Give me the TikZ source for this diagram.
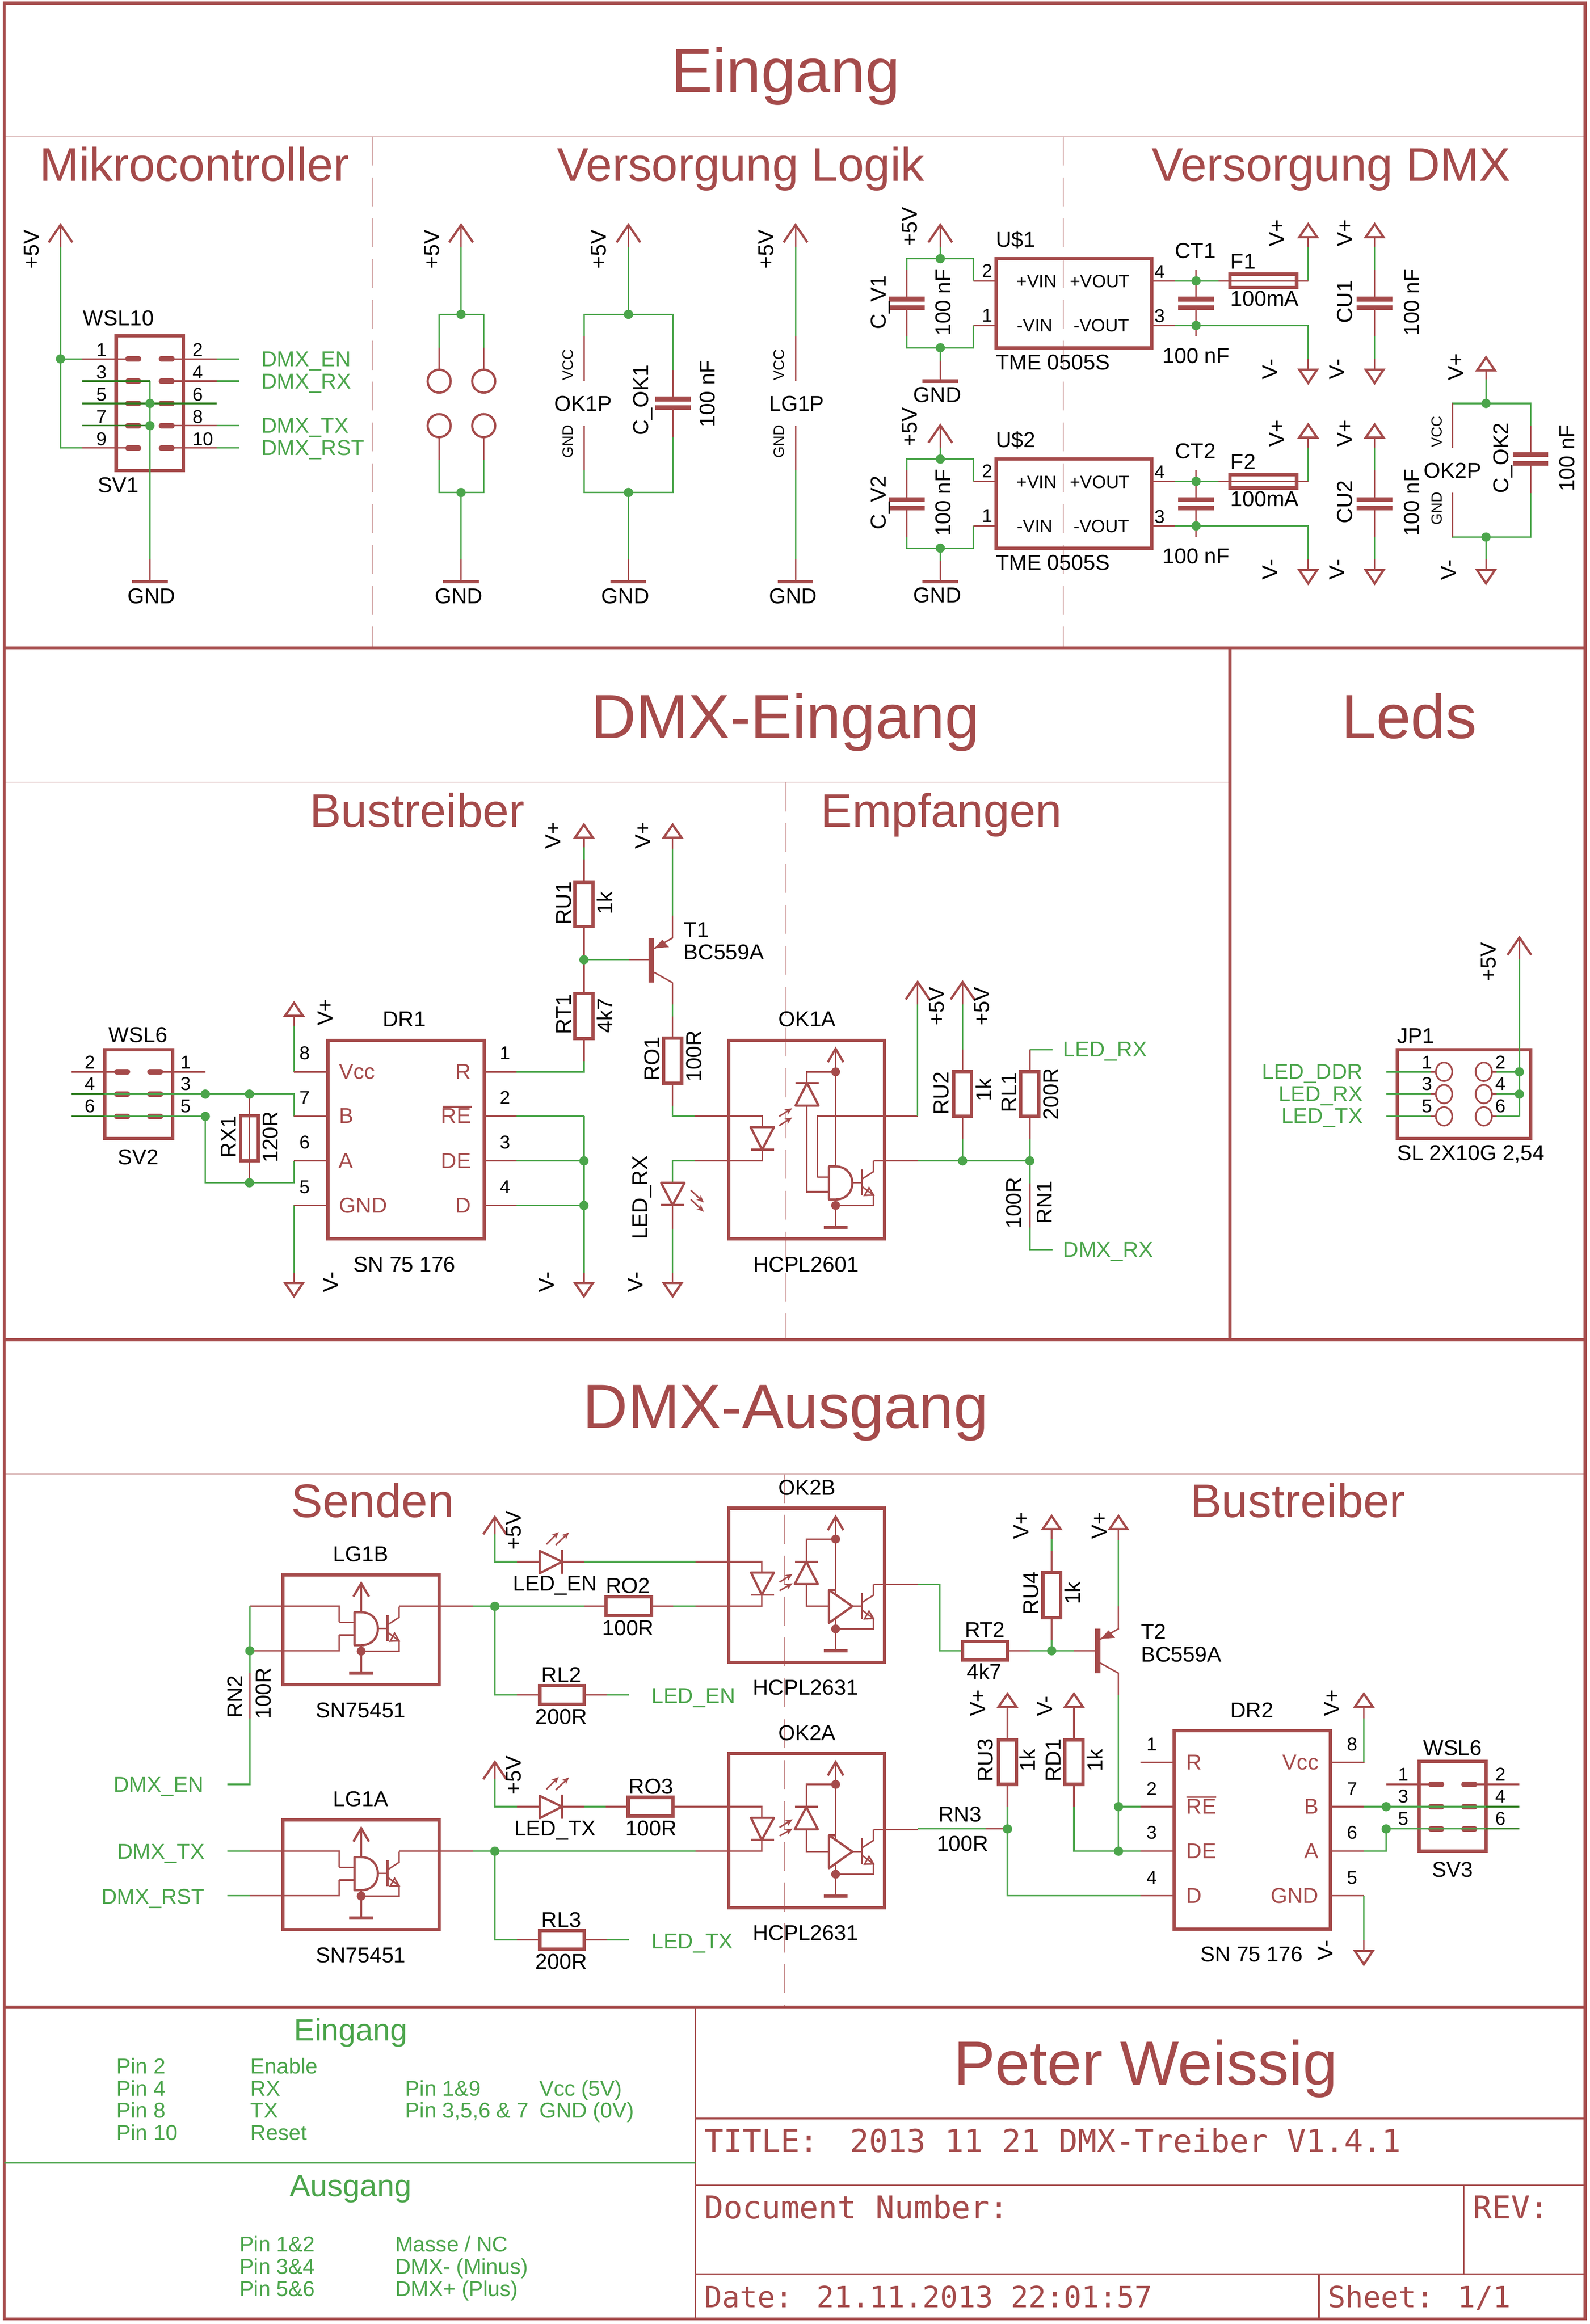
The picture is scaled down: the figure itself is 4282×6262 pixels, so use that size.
\documentclass[tikz,border=0pt]{standalone}
\usepackage{fontspec}
\setmainfont{Liberation Sans}
\newfontfamily\vfont{DejaVu Sans Mono}
\usetikzlibrary{arrows.meta}
\definecolor{sred}{HTML}{A54B4B}
\definecolor{sgrn}{HTML}{4BA54B}
\definecolor{dgrn}{HTML}{2E7D1F}
\newcommand\fpx[1]{\fontsize{\fpeval{#1*0.28453}}{\fpeval{#1*0.3}}\selectfont}
\newcounter{tn}
\tikzset{
 txt/.style={inner sep=0pt,outer sep=0pt,font=\fpx{58}},
 grn/.style={text=sgrn},
 rd/.style={text=sred},
 wire/.style={draw=sgrn,line width=0.04cm},
 dwire/.style={draw=dgrn,line width=0.04cm},
 pinl/.style={draw=sred,line width=0.04cm},
 outl/.style={draw=sred,line width=0.09cm,line join=miter},
 fram/.style={draw=sred,line width=0.08cm},
 thinf/.style={draw=sred,line width=0.045cm},
 symb/.style={draw=sred,line width=0.06cm,line join=round},
 capl/.style={draw=sred,line width=0.13cm},
 faintl/.style={draw=sred!35,line width=0.03cm},
 faintd/.style={draw=sred!65,line width=0.02cm,dash pattern=on 0.78cm off 0.32cm},
 boxn/.style={draw=sred,line width=0.09cm,inner sep=0pt,outer sep=0pt},
 big/.style={font=\fpx{168},text=sred},
 sect/.style={font=\fpx{127},text=sred},
 nr/.style={font=\fpx{50}},
 sml/.style={font=\fpx{40}},
 mono/.style={font=\vfont\fpx{85},text=sred},
}
\newcommand\TL[4][]{\stepcounter{tn}\node[txt,anchor=base west,#1] (t\thetn) at (#2,#3) {#4};}
\newcommand\TC[4][]{\stepcounter{tn}\node[txt,anchor=base,#1] (t\thetn) at (#2,#3) {#4};}
\newcommand\TR[4][]{\stepcounter{tn}\node[txt,anchor=base east,#1] (t\thetn) at (#2,#3) {#4};}
\newcommand\TV[4][]{\stepcounter{tn}\node[txt,anchor=base west,rotate=90,#1] (t\thetn) at (#2,#3) {#4};}
\newcommand\jd[2]{\fill[sgrn] (#1,#2) circle[radius=0.125cm];}
\newcommand\rdot[2]{\fill[sred] (#1,#2) circle[radius=0.12cm];}
% box given by corners
\newcommand\bx[5]{\pgfmathsetmacro\bw{((#4)-(#2))*0.01}\pgfmathsetmacro\bh{((#5)-(#3))*0.01}\pgfmathsetmacro\bcx{((#2)+(#4))/2}\pgfmathsetmacro\bcy{((#3)+(#5))/2}\node[boxn,minimum width=\bw cm,minimum height=\bh cm] (#1) at (\bcx,\bcy) {};}
\newcommand\Rv[4]{\pgfmathsetmacro\rxa{#2-24}\pgfmathsetmacro\rxb{#2+24}\bx{#1}{\rxa}{#3}{\rxb}{#4}}
\newcommand\Rh[4]{\pgfmathsetmacro\rya{#4-25}\pgfmathsetmacro\ryb{#4+25}\bx{#1}{#2}{\rya}{#3}{\ryb}}
\newcommand\capv[3]{\draw[capl] ({#1-48},#2)--({#1+48},#2);\draw[capl] ({#1-48},#3)--({#1+48},#3);}
\newcommand\gndb[2]{\draw[outl] ({#1-48},#2)--({#1+48},#2);}
\newcommand\parr[2]{\draw[symb,line join=miter] ({#1-32},{#2+47})--(#1,#2)--({#1+32},{#2+47});}
\newcommand\vup[2]{\draw[symb,line join=miter] (#1,#2)--({#1+24},{#2+35})--({#1-24},{#2+35})--cycle;}
\newcommand\vdn[2]{\draw[symb,line join=miter] (#1,{#2+36})--({#1+24},#2)--({#1-24},#2)--cycle;}
\newcommand\padd[2]{\draw[draw=sred,line width=0.15cm,line cap=round] ({#1-14},#2)--({#1+14},#2);}
\newcommand\larr[4]{\draw[draw=sred,line width=0.04cm,-{Stealth[length=0.2cm,width=0.17cm]}] (#1,#2)--(#3,#4);}
\newcommand\pnp[2]{%
 \draw[draw=sred,line width=0.15cm] (#1,#2)--(#1,{#2+121});
 \draw[pinl] ({#1+57},#2)--({#1+7},{#2+29});
 \draw[pinl] ({#1+7},{#2+93})--({#1+57},{#2+121});
 \fill[sred] ({#1+8},{#2+28})--({#1+47},{#2+25})--({#1+29},{#2+5})--cycle;}
% gate: #1=D or B, #2=x, #3=y, #4=arrow tip y
\newcommand\gatecore[4]{%
 \draw[pinl] ({#2+18},#4)--({#2+18},{#3+164});
 \draw[symb] ({#2-0},#3)--({#2+18},#3);
 \ifx#1D\draw[symb,fill=white] (#2,#3)--({#2+18},#3) .. controls ({#2+78},#3) and ({#2+78},{#3+89}) .. ({#2+18},{#3+89})--(#2,{#3+89})--cycle;
 \else\draw[symb,fill=white] (#2,#3)--({#2+63},{#3+44})--(#2,{#3+89})--cycle;\fi
 \draw[symb,line join=miter] ({#2+18-21},{#4+36})--({#2+18},#4)--({#2+18+21},{#4+36});
 \draw[pinl] ({#2+63},{#3+44})--({#2+89},{#3+44});
 \draw[symb] ({#2+89},{#3+8})--({#2+89},{#3+78});
 \draw[pinl] ({#2+89},{#3+34})--({#2+120},{#3+14})--({#2+120},{#3-15});
 \draw[pinl] ({#2+89},{#3+54})--({#2+120},{#3+77})--({#2+120},{#3+105})--({#2+18},{#3+105});
 \draw[pinl] ({#2+120},{#3+77})--({#2+96},{#3+78})--({#2+108},{#3+57})--cycle;
 \rdot{#2+18}{#3+105}
 \draw[outl] ({#2+18-32},{#3+164})--({#2+18+32},{#3+164});}
\begin{document}
\begin{tikzpicture}[x=0.01cm,y=-0.01cm]
\useasboundingbox (0,0) rectangle (4282,6262);
\fill[white] (0,0) rectangle (4282,6262);
% ---------- frames
\draw[faintl] (11,368)--(4270,368);
\draw[faintl] (11,2108)--(3313,2108);
\draw[faintl] (11,3972)--(4270,3972);
\draw[faintd] (1004,368)--(1004,1746);
\draw[faintd] (2864,368)--(2864,1746);
\draw[faintd] (2116,2108)--(2116,3610);
\draw[faintd] (2113,3972)--(2113,5408);
\draw[fram] (11,8) rectangle (4270,6248);
\draw[fram] (11,1746)--(4270,1746);
\draw[fram] (11,3610)--(4270,3610);
\draw[fram] (11,5408)--(4270,5408);
\draw[fram] (3313,1746)--(3313,3610);
\draw[thinf] (1873,5408)--(1873,6248);
\draw[thinf] (1873,5708)--(4270,5708);
\draw[thinf] (1873,5888)--(4270,5888);
\draw[thinf] (1873,6128)--(4270,6128);
\draw[thinf] (3943,5888)--(3943,6128);
\draw[thinf] (3553,6128)--(3553,6248);
\draw[wire,line width=0.045cm] (11,5828)--(1873,5828);
% ---------- section titles
\TC[big]{2116}{248}{Eingang}
\TC[sect]{524}{488}{Mikrocontroller}
\TC[sect]{1996}{488}{Versorgung Logik}
\TC[sect]{3586}{488}{Versorgung DMX}
\TC[big]{2116}{1990}{DMX-Eingang}
\TC[big]{3796}{1990}{Leds}
\TC[sect]{1124}{2228}{Bustreiber}
\TC[sect]{2536}{2228}{Empfangen}
\TC[big]{2116}{3848}{DMX-Ausgang}
\TC[sect]{1004}{4088}{Senden}
\TC[sect]{3496}{4088}{Bustreiber}
% ---------- SV1
\bx{sv1}{313}{905}{494}{1268}
\foreach \y in {967,1027,1087,1147,1207}{\padd{359}{\y}\padd{449}{\y}}
\draw[wire] (163,666)--(163,1207)--(222,1207);
\draw[wire] (163,967)--(222,967);
\draw[wire] (404,1027)--(404,1507);
\foreach \y in {967,1027,1147,1207}{\draw[wire] (584,\y)--(644,\y);\draw[pinl] (449,\y)--(584,\y);}
\draw[pinl] (163,606)--(163,666);\parr{163}{606}
\draw[pinl] (222,967)--(359,967);
\draw[pinl] (222,1207)--(359,1207);
\draw[pinl] (404,1507)--(404,1567);
\draw[dwire] (222,1027)--(404,1027);
\draw[dwire] (222,1087)--(584,1087);
\draw[dwire] (222,1147)--(404,1147);
\gndb{404}{1567}
\jd{163}{967}\jd{404}{1087}\jd{404}{1147}
\TV{105}{724}{+5V}
\TL{224}{877}{WSL10}
\TL{264}{1327}{SV1}
\TC{408}{1626}{GND}
\foreach \n/\y in {1/967,3/1027,5/1087,7/1147,9/1207}{\TC[nr]{274}{\y-7}{\n}}
\foreach \n/\y in {2/967,4/1027,6/1087,8/1147,10/1207}{\TL[nr]{519}{\y-7}{\n}}
\TL[grn]{704}{987}{DMX\_EN}
\TL[grn]{704}{1047}{DMX\_RX}
\TL[grn]{704}{1167}{DMX\_TX}
\TL[grn]{704}{1227}{DMX\_RST}
% ---------- pads column
\draw[wire] (1242,666)--(1242,847);
\draw[wire] (1183,937)--(1183,847)--(1303,847)--(1303,937);
\draw[wire] (1183,1238)--(1183,1327)--(1303,1327)--(1303,1238);
\draw[wire] (1242,1327)--(1242,1507);
\draw[pinl] (1242,606)--(1242,666);\parr{1242}{606}
\draw[pinl] (1183,937)--(1183,996);\draw[pinl] (1303,937)--(1303,996);
\draw[pinl] (1183,1178)--(1183,1238);\draw[pinl] (1303,1178)--(1303,1238);
\foreach \x in {1183,1303}\foreach \y in {1027,1147}{\draw[symb] (\x,\y) circle[radius=0.31cm];}
\draw[pinl] (1242,1507)--(1242,1567);\gndb{1242}{1567}
\jd{1242}{847}\jd{1242}{1327}
\TV{1183}{724}{+5V}
\TC{1236}{1626}{GND}
% ---------- OK1P
\draw[wire] (1693,666)--(1693,847);
\draw[wire] (1574,906)--(1574,847)--(1813,847)--(1813,997);
\draw[wire] (1574,1267)--(1574,1327)--(1813,1327)--(1813,1178);
\draw[wire] (1693,1327)--(1693,1507);
\draw[pinl] (1693,606)--(1693,666);\parr{1693}{606}
\draw[pinl] (1574,906)--(1574,1027);\draw[pinl] (1574,1147)--(1574,1267);
\draw[pinl] (1813,997)--(1813,1075);\draw[pinl] (1813,1098)--(1813,1178);
\capv{1813}{1075}{1098}
\draw[pinl] (1693,1507)--(1693,1567);\gndb{1693}{1567}
\jd{1693}{847}\jd{1693}{1327}
\TV{1633}{724}{+5V}
\TV[sml]{1543}{1025}{VCC}
\TV[sml]{1543}{1234}{GND}
\TC{1571}{1108}{OK1P}
\TV{1747}{1173}{C\_OK1}
\TV{1925}{1151}{100 nF}
\TC{1685}{1626}{GND}
% ---------- LG1P
\draw[wire] (2143,666)--(2143,906);
\draw[wire] (2143,1267)--(2143,1507);
\draw[pinl] (2143,606)--(2143,666);\parr{2143}{606}
\draw[pinl] (2143,906)--(2143,1027);\draw[pinl] (2143,1147)--(2143,1267);
\draw[pinl] (2143,1507)--(2143,1567);\gndb{2143}{1567}
\TV{2083}{724}{+5V}
\TV[sml]{2112}{1025}{VCC}
\TV[sml]{2112}{1234}{GND}
\TC{2146}{1108}{LG1P}
\TC{2136}{1626}{GND}
% ---------- U$1 / U$2 with capacitors and rails
\foreach \d/\n in {0/1,540/2}{
 \draw[wire] (2443,{728+\d})--(2443,{697+\d})--(2622,{697+\d})--(2622,{757+\d});
 \draw[wire] (2443,{906+\d})--(2443,{937+\d})--(2622,{937+\d})--(2622,{877+\d});
 \draw[wire] (2533,{666+\d})--(2533,{697+\d});
 \draw[wire] (2533,{937+\d})--(2533,{972+\d});
 \draw[pinl] (2533,{606+\d})--(2533,{666+\d});\parr{2533}{606+\d}
 \draw[pinl] (2443,{728+\d})--(2443,{806+\d});\draw[pinl] (2443,{829+\d})--(2443,{906+\d});
 \capv{2443}{806+\d}{829+\d}
 \draw[pinl] (2533,{972+\d})--(2533,{1027+\d});\gndb{2533}{1027+\d}
 \draw[pinl] (2622,{757+\d})--(2683,{757+\d});\draw[pinl] (2622,{877+\d})--(2683,{877+\d});
 \bx{u\n}{2683}{697+\d}{3103}{937+\d}
 \draw[wire] (3165,{757+\d})--(3282,{757+\d});
 \draw[wire] (3165,{877+\d})--(3524,{877+\d})--(3524,{967+\d});
 \draw[pinl] (3103,{757+\d})--(3165,{757+\d});\draw[pinl] (3103,{877+\d})--(3165,{877+\d});
 \draw[wire] (3524,{757+\d})--(3524,{666+\d});
 \draw[pinl] (3524,{666+\d})--(3524,{639+\d});\vup{3524}{604+\d}
 \draw[pinl] (3524,{967+\d})--(3524,{996+\d});\vdn{3524}{996+\d}
 \draw[pinl] (3222,{726+\d})--(3222,{806+\d});\draw[pinl] (3222,{829+\d})--(3222,{906+\d});
 \capv{3222}{806+\d}{829+\d}
 \bx{f\n}{3313}{739+\d}{3493}{775+\d}
 \draw[pinl] (3282,{757+\d})--(3524,{757+\d});
 \draw[wire] (3703,{666+\d})--(3703,{728+\d});\draw[wire] (3703,{906+\d})--(3703,{967+\d});
 \draw[pinl] (3703,{639+\d})--(3703,{666+\d});\vup{3703}{604+\d}
 \draw[pinl] (3703,{728+\d})--(3703,{806+\d});\draw[pinl] (3703,{829+\d})--(3703,{906+\d});
 \capv{3703}{806+\d}{829+\d}
 \draw[pinl] (3703,{967+\d})--(3703,{996+\d});\vdn{3703}{996+\d}
 \jd{2533}{697+\d}\jd{2533}{937+\d}\jd{3222}{757+\d}\jd{3222}{877+\d}
 \TV{2470}{663+\d}{+5V}
 \TV{2386}{887+\d}{C\_V\n}
 \TV{2561}{905+\d}{100 nF}
 \TL{2683}{666+\d}{U\$\n}
 \TL{2683}{996+\d}{TME 0505S}
 \TC[nr]{2659}{747+\d}{2}\TC[nr]{2659}{867+\d}{1}
 \TC[nr]{3124}{749+\d}{4}\TC[nr]{3124}{869+\d}{3}
 \TC[font=\fpx{48}]{2793}{775+\d}{+VIN}
 \TC[font=\fpx{48}]{2963}{775+\d}{+VOUT}
 \TC[font=\fpx{48}]{2788}{894+\d}{-VIN}
 \TC[font=\fpx{48}]{2967}{894+\d}{-VOUT}
 \TC{3220}{696+\d}{CT\n}
 \TL{3315}{724+\d}{F\n}
 \TL{3315}{825+\d}{100mA}
 \TC{3222}{979+\d}{100 nF}
 \TV{3460}{664+\d}{V+}
 \TV{3441}{1022+\d}{V-}
 \TV{3642}{664+\d}{V+}
 \TV{3643}{871+\d}{CU\n}
 \TV{3823}{905+\d}{100 nF}
 \TV{3621}{1022+\d}{V-}
 \TC{2525}{1084+\d}{GND}
}
% ---------- OK2P
\draw[wire] (4003,1022)--(4003,1087);
\draw[wire] (3913,1207)--(3913,1087)--(4123,1087)--(4123,1147);
\draw[wire] (3913,1327)--(3913,1447)--(4123,1447)--(4123,1329);
\draw[wire] (4003,1447)--(4003,1507);
\draw[pinl] (4003,997)--(4003,1022);\vup{4003}{963}
\draw[pinl] (3913,1087)--(3913,1207);\draw[pinl] (3913,1327)--(3913,1447);
\draw[pinl] (4123,1147)--(4123,1225);\draw[pinl] (4123,1249)--(4123,1329);
\capv{4123}{1225}{1249}
\draw[pinl] (4003,1507)--(4003,1536);\vdn{4003}{1536}
\jd{4003}{1087}\jd{4003}{1447}
\TV{3942}{1025}{V+}
\TV[sml]{3884}{1206}{VCC}
\TC{3913}{1288}{OK2P}
\TV[sml]{3884}{1414}{GND}
\TV{4063}{1329}{C\_OK2}
\TV{4241}{1325}{100 nF}
\TV{3922}{1563}{V-}
% ---------- SV2 / DR1
\bx{sv2}{282}{2828}{465}{3068}
\foreach \y in {2888,2948,3008}{\padd{329}{\y}\padd{418}{\y}}
\draw[pinl] (193,2888)--(329,2888);\draw[pinl] (418,2888)--(553,2888);
\draw[dwire] (193,2948)--(282,2948);\draw[dwire] (193,3008)--(282,3008);
\draw[wire] (282,2948)--(792,2948)--(792,3008);
\draw[wire] (282,3008)--(553,3008)--(553,3187)--(792,3187)--(792,3128);
\draw[pinl] (792,3008)--(883,3008);\draw[pinl] (792,3128)--(883,3128);
\draw[pinl] (672,2948)--(672,3187);
\Rv{rx1}{672}{3006}{3128}
\jd{553}{2948}\jd{672}{2948}\jd{553}{3008}\jd{672}{3187}
\bx{dr1}{883}{2803}{1304}{3338}
\draw[wire] (792,2764)--(792,2888);\draw[pinl] (792,2739)--(792,2764);\vup{792}{2702}
\draw[pinl] (792,2888)--(883,2888);
\draw[wire] (792,3248)--(792,3452);\draw[pinl] (792,3248)--(883,3248);
\draw[pinl] (792,3430)--(792,3457);\vdn{792}{3457}
\draw[wire] (1392,2888)--(1573,2888)--(1573,2859);
\draw[pinl] (1304,2888)--(1392,2888);
\draw[pinl] (1573,2859)--(1573,2798);
\Rv{rt1}{1573}{2677}{2798}
\draw[pinl] (1573,2677)--(1573,2497);
\Rv{ru1}{1573}{2377}{2497}
\draw[pinl] (1573,2377)--(1573,2316);
\draw[wire] (1573,2316)--(1573,2283);
\draw[pinl] (1573,2283)--(1573,2258);\vup{1573}{2222}
\draw[wire] (1573,2586)--(1695,2586);\draw[pinl] (1695,2586)--(1755,2586);
\pnp{1755}{2527}
\draw[pinl] (1812,2527)--(1812,2467);
\draw[wire] (1812,2467)--(1812,2287);
\draw[pinl] (1812,2287)--(1812,2258);\vup{1812}{2222}
\draw[pinl] (1812,2648)--(1812,2706);
\draw[wire] (1812,2706)--(1812,2739);
\draw[pinl] (1812,2739)--(1812,2797);
\Rv{ro1}{1812}{2797}{2919}
\draw[pinl] (1812,2919)--(1812,2979);
\draw[wire] (1812,2979)--(1812,3007)--(1872,3007);
\foreach \y in {3007,3128,3248}{\draw[wire] (1392,\y)--(1573,\y);\draw[pinl] (1304,\y)--(1392,\y);}
\draw[wire] (1573,3007)--(1573,3430);
\draw[pinl] (1573,3430)--(1573,3457);\vdn{1573}{3457}
\jd{1573}{2586}\jd{1573}{3128}\jd{1573}{3248}
% LED_RX
\draw[wire] (1872,3128)--(1812,3128)--(1812,3187);
\draw[symb] (1812,3247)--(1781,3187)--(1844,3187)--cycle;
\draw[outl,line width=0.06cm] (1781,3247)--(1844,3247);
\draw[pinl] (1812,3247)--(1812,3311);
\draw[wire] (1812,3311)--(1812,3430);
\draw[pinl] (1812,3430)--(1812,3457);\vdn{1812}{3457}
\larr{1861}{3207}{1896}{3240}
\larr{1861}{3232}{1896}{3265}
% OK1A
\bx{ok1a}{1963}{2803}{2383}{3338}
\draw[pinl] (1872,3007)--(2053,3007)--(2053,3037);
\draw[pinl] (1872,3128)--(2053,3128)--(2053,3098);
\draw[symb] (2053,3098)--(2022,3037)--(2085,3037)--cycle;
\draw[symb] (2022,3098)--(2085,3098);
\larr{2099}{3008}{2134}{2986}
\larr{2099}{3033}{2134}{3011}
\draw[symb] (2174,2918)--(2143,2979)--(2205,2979)--cycle;
\draw[symb] (2143,2918)--(2205,2918);
\draw[pinl] (2174,2918)--(2174,2888)--(2251,2888);
\draw[pinl] (2174,2979)--(2174,3211)--(2233,3211);
\draw[pinl] (2202,3172)--(2233,3172);
\draw[pinl] (2202,3172)--(2202,3007)--(2472,3007);
\gatecore{D}{2233}{3143}{2826}
\rdot{2251}{2888}
\draw[pinl] (2353,3128)--(2472,3128);
\draw[wire] (2472,3128)--(2774,3128);
\draw[pinl] (2472,2646)--(2472,2707);\parr{2472}{2646}
\draw[wire] (2472,2707)--(2472,3007);
\draw[pinl] (2593,2646)--(2593,2707);\parr{2593}{2646}
\draw[wire] (2593,2707)--(2593,2828);
\draw[pinl] (2593,2828)--(2593,2888);
\Rv{ru2}{2593}{2888}{3008}
\draw[pinl] (2593,3008)--(2593,3068);
\draw[wire] (2593,3068)--(2593,3128);
\draw[wire] (2774,2828)--(2835,2828);
\draw[pinl] (2774,2828)--(2774,2888);
\Rv{rl1}{2774}{2888}{3008}
\draw[pinl] (2774,3008)--(2774,3068);
\draw[wire] (2774,3068)--(2774,3189);
\draw[pinl] (2774,3189)--(2774,3308);
\draw[wire] (2774,3308)--(2774,3367)--(2835,3367);
\jd{2593}{3128}\jd{2774}{3128}
% labels DMX-Eingang
\TC{372}{2808}{WSL6}\TC{372}{3138}{SV2}
\foreach \n/\y in {2/2880,4/2938,6/2997}{\TC[nr]{242}{\y}{\n}}
\foreach \n/\y in {1/2880,3/2938,5/2997}{\TC[nr]{501}{\y}{\n}}
\TV{636}{3120}{RX1}\TV{748}{3133}{120R}
\TV{896}{2764}{V+}\TV{911}{3482}{V-}
\TC{1089}{2766}{DR1}\TC{1090}{3427}{SN 75 176}
\TL[rd]{914}{2907}{Vcc}\TL[rd]{914}{3027}{B}\TL[rd]{912}{3148}{A}\TL[rd]{914}{3268}{GND}
\TR[rd]{1269}{2907}{R}\TR[rd]{1269}{3027}{RE}\TR[rd]{1269}{3148}{DE}\TR[rd]{1269}{3268}{D}
\draw[pinl] (1192,2982)--(1271,2982);
\foreach \n/\y in {8/2855,7/2975,6/3095,5/3216}{\TC[nr]{821}{\y}{\n}}
\foreach \n/\y in {1/2855,2/2975,3/3095,4/3216}{\TC[nr]{1361}{\y}{\n}}
\TV{1538}{2492}{RU1}\TV{1650}{2464}{1k}
\TV{1538}{2787}{RT1}\TV{1650}{2783}{4k7}
\TV{1510}{2287}{V+}\TV{1752}{2287}{V+}
\TL{1842}{2525}{T1}\TL{1842}{2585}{BC559A}
\TV{1777}{2913}{RO1}\TV{1889}{2915}{100R}
\TV{1744}{3340}{LED\_RX}
\TV{1492}{3482}{V-}\TV{1732}{3482}{V-}
\TC{2174}{2766}{OK1A}\TC{2171}{3427}{HCPL2601}
\TV{2543}{2764}{+5V}\TV{2665}{2764}{+5V}
\TV{2556}{3004}{RU2}\TV{2671}{2967}{1k}
\TV{2738}{2997}{RL1}\TV{2851}{3017}{200R}
\TV{2751}{3311}{100R}\TV{2833}{3298}{RN1}
\TL[grn]{2864}{2847}{LED\_RX}\TL[grn]{2864}{3387}{DMX\_RX}
% ---------- Leds
\bx{jp1}{3764}{2828}{4123}{3068}
\foreach \y in {2888,2948,3008}{
 \draw[wire] (3734,\y)--(3853,\y);\draw[pinl] (3853,\y)--(3868,\y);
 \draw[symb,line width=0.045cm] (3890,\y) circle[x radius=0.22cm,y radius=0.25cm];
 \draw[symb,line width=0.045cm] (3997,\y) circle[x radius=0.22cm,y radius=0.25cm];
 \draw[pinl] (4019,\y)--(4032,\y);\draw[wire] (4032,\y)--(4093,\y);}
\draw[wire] (4093,2585)--(4093,3008);
\draw[pinl] (4093,2526)--(4093,2585);\parr{4093}{2526}
\jd{4093}{2888}\jd{4093}{2948}
\TR[grn]{3671}{2907}{LED\_DDR}\TR[grn]{3671}{2967}{LED\_RX}\TR[grn]{3671}{3027}{LED\_TX}
\TL{3764}{2811}{JP1}\TL{3764}{3127}{SL 2X10G 2,54}
\foreach \n/\y in {1/2880,3/2938,5/2997}{\TC[nr]{3844}{\y}{\n}}
\foreach \n/\y in {2/2880,4/2938,6/2997}{\TC[nr]{4042}{\y}{\n}}
\TV{4030}{2644}{+5V}
% ---------- DMX-Ausgang: LG1 B/A
\foreach \d/\n/\m in {0/B/2,660/A/3}{
 \bx{lg\n}{762}{4244+\d}{1183}{4539+\d}
 \draw[pinl] (914,{4371+\d})--(955,{4371+\d});
 \draw[pinl] (914,{4406+\d})--(955,{4406+\d});
 \draw[pinl] (673,{4328+\d})--(914,{4328+\d})--(914,{4371+\d});
 \draw[pinl] (673,{4448+\d})--(914,{4448+\d})--(914,{4406+\d});
 \gatecore{D}{955}{4344+\d}{4266+\d}
 \draw[pinl] (1076,{4328+\d})--(1274,{4328+\d});
 \draw[wire] (1274,{4328+\d})--(1393,{4328+\d});
 \draw[wire] (1333,{4134+\d})--(1333,{4208+\d})--(1393,{4208+\d});
 \draw[pinl] (1333,{4088+\d})--(1333,{4134+\d});
 \draw[symb,line join=miter] (1302,{4134+\d})--(1333,{4088+\d})--(1364,{4134+\d});
 \draw[pinl] (1393,{4208+\d})--(1454,{4208+\d});
 \draw[symb] (1454,{4179+\d})--(1514,{4208+\d})--(1454,{4239+\d})--cycle;
 \draw[outl,line width=0.06cm] (1514,{4176+\d})--(1514,{4241+\d});
 \larr{1472}{4161+\d}{1505}{4128+\d}
 \larr{1497}{4163+\d}{1533}{4129+\d}
 \draw[pinl] (1514,{4208+\d})--(1574,{4208+\d});
 \draw[wire] (1333,{4328+\d})--(1333,{4567+\d})--(1393,{4567+\d});
 \draw[pinl] (1393,{4567+\d})--(1454,{4567+\d});
 \Rh{rl\m}{1454}{1574}{4567+\d}
 \draw[pinl] (1574,{4567+\d})--(1635,{4567+\d});
 \draw[wire] (1635,{4567+\d})--(1694,{4567+\d});
 \jd{1333}{4328+\d}
 \TC{972}{4208+\d}{LG1\n}
 \TC{972}{4628+\d}{SN75451}
 \TV{1403}{4176+\d}{+5V}
 \TC{1512}{4533+\d}{RL\m}
 \TC{1512}{4646+\d}{200R}
}
% RO2 branch
\draw[wire] (1393,4328)--(1574,4328);
\draw[pinl] (1574,4328)--(1632,4328);
\Rh{ro2}{1632}{1755}{4328}
\draw[pinl] (1755,4328)--(1813,4328);
\draw[wire] (1813,4328)--(1873,4328);
\draw[pinl] (1873,4328)--(2052,4328)--(2052,4297);
\draw[wire] (1574,4208)--(1873,4208);
\draw[pinl] (1873,4208)--(2052,4208)--(2052,4237);
% RO3 branch
\draw[wire] (1393,4988)--(1873,4988);
\draw[pinl] (1873,4988)--(2052,4988)--(2052,4958);
\draw[wire] (1574,4868)--(1632,4868);
\draw[pinl] (1632,4868)--(1692,4868);
\Rh{ro3}{1692}{1813}{4868}
\draw[pinl] (1813,4868)--(2052,4868)--(2052,4898);
% RN2 and inputs
\draw[wire] (673,4328)--(673,4507);
\draw[pinl] (673,4507)--(673,4630);
\draw[wire] (673,4630)--(673,4808)--(612,4808);
\jd{673}{4448}
\draw[wire] (612,4988)--(673,4988);
\draw[wire] (612,5108)--(673,5108);
\TR[grn]{548}{4828}{DMX\_EN}
\TR[grn]{551}{5009}{DMX\_TX}
\TR[grn]{551}{5130}{DMX\_RST}
\TV{653}{4630}{RN2}\TV{729}{4632}{100R}
\TC{1495}{4286}{LED\_EN}\TC{1692}{4292}{RO2}\TC{1692}{4406}{100R}
\TL[grn]{1755}{4589}{LED\_EN}
\TC{1495}{4946}{LED\_TX}\TC{1754}{4833}{RO3}\TC{1754}{4946}{100R}
\TL[grn]{1755}{5250}{LED\_TX}
% ---------- OK2 B/A
\foreach \d/\n/\l in {0/B/4028,661/A/4689}{
 \bx{ok2\n}{1963}{4064+\d}{2383}{4479+\d}
 \draw[symb] (2052,{4297+\d})--(2023,{4237+\d})--(2085,{4237+\d})--cycle;
 \draw[symb] (2023,{4297+\d})--(2085,{4297+\d});
 \larr{2100}{4263+\d}{2135}{4241+\d}
 \larr{2100}{4286+\d}{2135}{4266+\d}
 \draw[symb] (2172,{4208+\d})--(2141,{4268+\d})--(2203,{4268+\d})--cycle;
 \draw[symb] (2141,{4208+\d})--(2203,{4208+\d});
 \draw[pinl] (2172,{4208+\d})--(2172,{4147+\d})--(2251,{4147+\d});
 \draw[pinl] (2172,{4268+\d})--(2172,{4328+\d})--(2233,{4328+\d});
 \gatecore{B}{2233}{4284+\d}{4087+\d}
 \rdot{2251}{4147+\d}
 \draw[pinl] (2353,{4269+\d})--(2472,{4269+\d});
 \TC{2174}{\l}{OK2\n}
 \TC{2170}{4567+\d}{HCPL2631}
}
% right of OK2B
\draw[wire] (2472,4269)--(2532,4269)--(2532,4448)--(2593,4448);
\Rh{rt2}{2593}{2714}{4448}
\draw[pinl] (2714,4448)--(2774,4448);
\draw[wire] (2774,4448)--(2893,4448);
\draw[pinl] (2893,4448)--(2957,4448);
\pnp{2957}{4388}
\draw[pinl] (3013,4388)--(3013,4328);
\draw[wire] (3013,4328)--(3013,4150);
\draw[pinl] (3013,4150)--(3013,4121);\vup{3013}{4085}
\draw[pinl] (3013,4509)--(3013,4567);
\draw[wire] (3013,4567)--(3013,4988);
\draw[pinl] (2833,4121)--(2833,4147);\vup{2833}{4085}
\draw[wire] (2833,4147)--(2833,4179);
\draw[pinl] (2833,4179)--(2833,4237);
\Rv{ru4}{2833}{4237}{4359}
\draw[pinl] (2833,4359)--(2833,4420);
\draw[wire] (2833,4420)--(2833,4448);
\jd{2833}{4448}
\TV{2771}{4147}{V+}\TV{2981}{4147}{V+}
\TV{2797}{4351}{RU4}\TV{2910}{4323}{1k}
\TC{2653}{4411}{RT2}\TC{2651}{4524}{4k7}
\TL{3074}{4417}{T2}\TL{3074}{4478}{BC559A}
% right of OK2A
\draw[pinl] (2353,4930)--(2472,4930);
\draw[wire] (2472,4928)--(2714,4928);
\draw[pinl] (2655,4928)--(2714,4928);
\draw[pinl] (2714,4600)--(2714,4688);\vup{2714}{4564}
\Rv{ru3}{2714}{4688}{4808}
\draw[pinl] (2714,4808)--(2714,4868);
\draw[wire] (2714,4868)--(2714,5108)--(3072,5108);
\draw[pinl] (3072,5108)--(3163,5108);
\draw[pinl] (2893,4600)--(2893,4688);\vup{2893}{4564}
\Rv{rd1}{2893}{4688}{4808}
\draw[pinl] (2893,4808)--(2893,4868);
\draw[wire] (2893,4868)--(2893,4988)--(3072,4988);
\draw[pinl] (3072,4988)--(3163,4988);
\draw[wire] (3013,4868)--(3072,4868);
\draw[pinl] (3072,4868)--(3163,4868);
\draw[pinl] (3072,4748)--(3163,4748);
\bx{dr2}{3163}{4663}{3584}{5198}
\draw[pinl] (3584,4748)--(3674,4748)--(3674,4630);
\draw[wire] (3674,4748)--(3674,4630);
\draw[pinl] (3674,4630)--(3674,4600);\vup{3674}{4564}
\draw[pinl] (3584,4868)--(3674,4868);
\draw[wire] (3674,4868)--(3734,4868);
\draw[pinl] (3584,4988)--(3674,4988);
\draw[wire] (3674,4988)--(3734,4988)--(3734,4928);
\draw[pinl] (3584,5108)--(3674,5108);
\draw[wire] (3674,5108)--(3674,5228);
\draw[pinl] (3674,5228)--(3674,5257);\vdn{3674}{5257}
\bx{sv3}{3823}{4746}{4003}{4988}
\foreach \y in {4808,4868,4928}{\padd{3869}{\y}\padd{3958}{\y}}
\draw[pinl] (3734,4808)--(3869,4808);\draw[pinl] (3958,4808)--(4093,4808);
\draw[wire] (3734,4868)--(4003,4868);\draw[wire] (3734,4928)--(4003,4928);
\draw[dwire] (4003,4868)--(4093,4868);\draw[dwire] (4003,4928)--(4093,4928);
\jd{2714}{4928}\jd{3013}{4868}\jd{3013}{4988}\jd{3734}{4868}\jd{3734}{4928}
\TV{2654}{4625}{V+}\TV{2835}{4625}{V-}
\TV{2675}{4801}{RU3}\TV{2788}{4774}{1k}
\TV{2857}{4801}{RD1}\TV{2970}{4774}{1k}
\TC{2586}{4909}{RN3}\TC{2593}{4987}{100R}
\TC{3372}{4628}{DR2}\TC{3372}{5286}{SN 75 176}
\TV{3590}{5283}{V-}\TV{3607}{4625}{V+}
\foreach \n/\y in {1/4717,2/4837,3/4955,4/5076}{\TC[nr]{3103}{\y}{\n}}
\foreach \n/\y in {8/4717,7/4837,6/4955,5/5076}{\TC[nr]{3643}{\y}{\n}}
\TL[rd]{3196}{4768}{R}\TL[rd]{3196}{4888}{RE}\TL[rd]{3196}{5008}{DE}\TL[rd]{3196}{5128}{D}
\draw[pinl] (3196,4842)--(3276,4842);
\TR[rd]{3552}{4768}{Vcc}\TR[rd]{3552}{4888}{B}\TR[rd]{3552}{5008}{A}\TR[rd]{3552}{5128}{GND}
\TC{3913}{4730}{WSL6}\TC{3913}{5058}{SV3}
\foreach \n/\y in {1/4799,3/4857,5/4918}{\TC[nr]{3780}{\y}{\n}}
\foreach \n/\y in {2/4799,4/4857,6/4918}{\TC[nr]{4042}{\y}{\n}}
% ---------- title block
\TC[big]{3086}{5617}{Peter Weissig}
\TC[grn,font=\fpx{83}]{945}{5498}{Eingang}
\TC[grn,font=\fpx{83}]{945}{5918}{Ausgang}
\foreach \a/\b/\y in {Pin 2/Enable/5587,Pin 4/RX/5647,Pin 8/TX/5707,Pin 10/Reset/5767}{
 \TL[grn,font=\fpx{58}]{314}{\y}{\a}\TL[grn,font=\fpx{58}]{675}{\y}{\b}}
\TL[grn,font=\fpx{58}]{1092}{5647}{Pin 1\&9}\TL[grn,font=\fpx{58}]{1453}{5647}{Vcc (5V)}
\TL[grn,font=\fpx{58}]{1092}{5707}{Pin 3,5,6 \& 7}\TL[grn,font=\fpx{58}]{1453}{5707}{GND (0V)}
\TL[grn,font=\fpx{58}]{645}{6067}{Pin 1\&2}\TL[grn,font=\fpx{58}]{1065}{6067}{Masse / NC}
\TL[grn,font=\fpx{58}]{645}{6127}{Pin 3\&4}\TL[grn,font=\fpx{58}]{1065}{6127}{DMX- (Minus)}
\TL[grn,font=\fpx{58}]{645}{6187}{Pin 5\&6}\TL[grn,font=\fpx{58}]{1065}{6187}{DMX+ (Plus)}
\TL[mono]{1898}{5799}{TITLE:\ \ \hspace{-0.18cm}2013 11 21 DMX-Treiber V1.4.1}
\TL[mono]{1898}{5978}{Document Number:}
\TL[mono]{3968}{5978}{REV:}
\TL[mono,font=\vfont\fpx{79}]{1898}{6218}{Date: 21.11.2013 22:01:57}
\TL[mono,font=\vfont\fpx{79}]{3578}{6218}{Sheet: 1/1}
\end{tikzpicture}
\end{document}
